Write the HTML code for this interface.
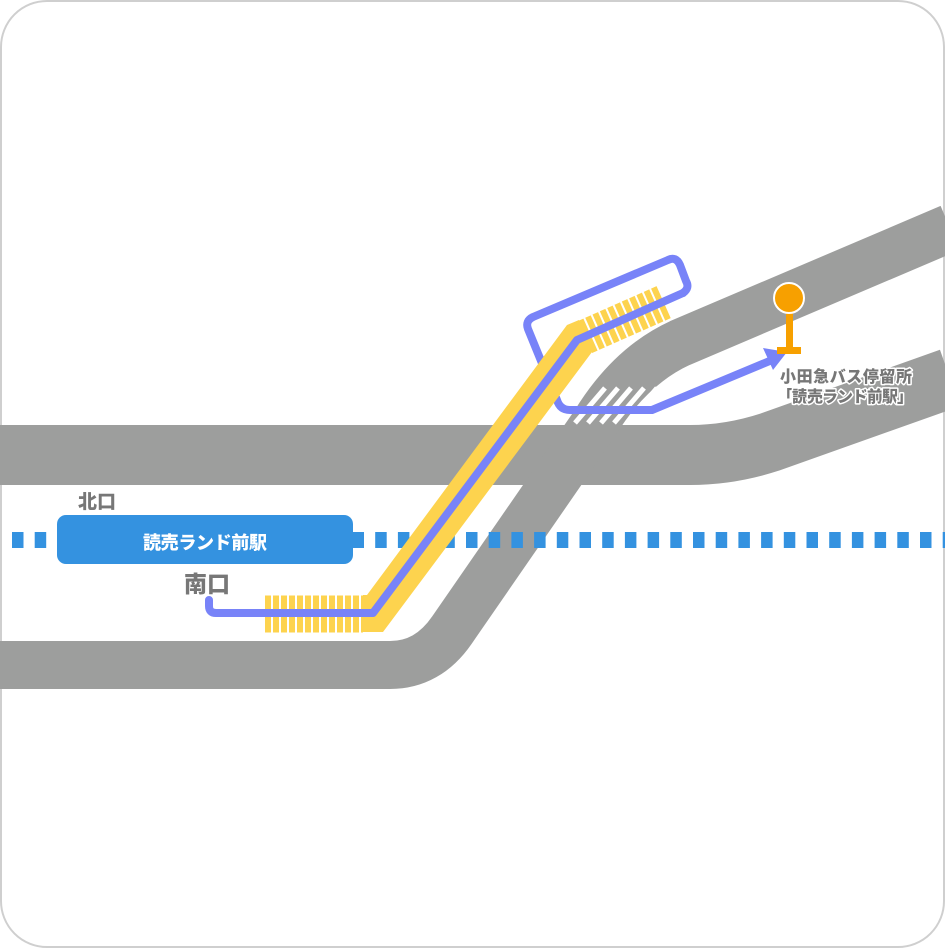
<!DOCTYPE html>
<html><head><meta charset="utf-8"><style>
html,body{margin:0;padding:0;background:#fff;}
svg{display:block;}
text{font-family:"Liberation Sans","Noto Sans CJK JP",sans-serif;font-weight:900;}
</style></head><body>
<svg width="945" height="948" viewBox="0 0 945 948" xmlns="http://www.w3.org/2000/svg">
<rect x="1" y="1" width="943" height="946" rx="46" ry="46" fill="#fff" stroke="#cfcfcf" stroke-width="2"/>
<g fill="none" stroke="#9d9e9d" stroke-linejoin="round">
<path d="M0,455 L690,455 Q730,455 770,442 L950,378" stroke-width="60"/>
<path d="M0,665 L390,665 Q428,665 452,630 L595,423 Q630,366 680,343 L950,228" stroke-width="48"/>
</g>
<g stroke="#fff" stroke-width="5">
<line x1="605" y1="388" x2="575" y2="423"/><line x1="618" y1="388" x2="588" y2="423"/><line x1="631" y1="388" x2="601" y2="423"/><line x1="644" y1="388" x2="614" y2="423"/><line x1="657" y1="388" x2="627" y2="423"/>
</g>
<line x1="12" y1="540" x2="945" y2="540" stroke="#3492e0" stroke-width="16" stroke-dasharray="11.5,11.2"/>
<rect x="57" y="515" width="296" height="49" rx="9" fill="#3492e0"/>
<text x="205" y="549" font-size="18" fill="#fff" text-anchor="middle" textLength="124">読売ランド前駅</text>
<text x="78" y="508" font-size="19" fill="#777">北口</text>
<text x="184" y="592" font-size="23" fill="#777">南口</text>
<g fill="none" stroke="#7883f8" stroke-width="8" stroke-linejoin="round" stroke-linecap="round">
<path d="M683,293 Q690,288 686,281 L680,265 Q676,256 668,260 L533,317 Q525,321 528,329 L557,400 Q560,410 570,410 L652,410 L772,360"/>
</g>
<polygon points="363,595 367,595 567,325 579,320 592,352 383,632 363,632" fill="#fdd34e"/>
<g fill="none" stroke="#fdd34e">
<line x1="265" y1="614" x2="363" y2="614" stroke-width="37" stroke-dasharray="6,2"/>
<line x1="585" y1="337" x2="664" y2="302" stroke-width="35" stroke-dasharray="6,2"/>
</g>
<g fill="none" stroke="#7883f8" stroke-width="8" stroke-linejoin="round" stroke-linecap="round">
<path d="M209,600 L209,606 Q209,613 216,613 L373,613 L577,340 L683,293"/>
</g>
<polygon points="787,352 763,348 773,370" fill="#7883f8"/>
<rect x="786" y="308" width="7" height="42" fill="#f7a000"/>
<rect x="777" y="347" width="24" height="7" fill="#f7a000"/>
<circle cx="789" cy="298" r="15" fill="#f7a000" stroke="#fff" stroke-width="2"/>
<g font-size="16" fill="#777" stroke="#fff" stroke-width="3" paint-order="stroke" stroke-linejoin="round">
<text x="780" y="382" textLength="132">小田急バス停留所</text>
<text x="777" y="402" textLength="136">「読売ランド前駅」</text>
</g>
</svg>
</body></html>
